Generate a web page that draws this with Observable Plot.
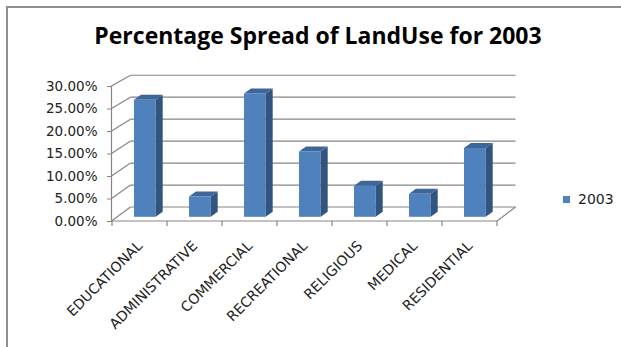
<!DOCTYPE html>
<html>
<head>
<meta charset="utf-8">
<script src="https://cdn.jsdelivr.net/npm/d3@7"></script>
<script src="https://cdn.jsdelivr.net/npm/@observablehq/plot@0.6"></script>
<style>
  html, body { margin: 0; padding: 0; background: #fff; overflow: hidden; }
  #wrap { position: relative; width: 621px; height: 347px; overflow: hidden; background: #fff; }
  #border { position: absolute; left: 6px; top: 6px; width: 640px; height: 360px; border-top: 2px solid #8e8e8e; border-left: 2px solid #8e8e8e; }
  #title { position: absolute; left: 0; top: 21px; width: 636px; text-align: center; font-family: "Open Sans", sans-serif; font-weight: bold; font-size: 23px; color: #000; line-height: 28px; white-space: nowrap; }
  #chart { position: absolute; left: 0; top: 0; }
  #legend { position: absolute; left: 563px; top: 191px; font-family: "DejaVu Sans", sans-serif; font-size: 14px; color: #222; display: flex; align-items: center; }
  #legend .sw { width: 7px; height: 7px; background: #4f81bd; margin-right: 8px; }
</style>
</head>
<body>
<div id="wrap">
  <div id="border"></div>
  <div id="chart"></div>
  <div id="title"></div>
  <div id="legend"></div>
</div>
<script>
const titleText = "Percentage Spread of LandUse for 2003";
const categories = ["EDUCATIONAL", "ADMINISTRATIVE", "COMMERCIAL", "RECREATIONAL", "RELIGIOUS", "MEDICAL", "RESIDENTIAL"];
const values2003 = [26.0, 4.5, 27.4, 14.5, 6.9, 5.1, 15.3];
const yTicks = [0, 5, 10, 15, 20, 25, 30];
const seriesName = "2003";

const data = categories.map((c, i) => ({cat: c, value: values2003[i]}));

const FRONT = "#4f81bd", SIDE = "#31557f", CAP = "#3d6699", GRID = "#868686";
const depthX = 18.5, depthY = -14, backScale = 0.976;
const barDx = 5.5, barDy = -4.2, barDepthX = 7, barDepthY = -5;
const insL = 16.5, insR = 16.8;

function ns(tag, attrs) {
  const el = document.createElementNS("http://www.w3.org/2000/svg", tag);
  for (const k in attrs) el.setAttribute(k, attrs[k]);
  return el;
}

// walls, floor and gridlines
function walls(index, scales) {
  const {x, y} = scales;
  const g = ns("g", {stroke: GRID, "stroke-width": 1.2, fill: "none"});
  const r = x.range();
  const x0 = r[0], x1 = r[1];
  const y0 = y(0);
  const yb = t => y0 + depthY + (y(t) - y0) * backScale;
  for (const t of yTicks) {
    g.appendChild(ns("line", {x1: x0 + depthX, x2: x1 + depthX, y1: yb(t), y2: yb(t)}));
    g.appendChild(ns("line", {x1: x0 - 0.5, x2: x0 + depthX, y1: y(t), y2: yb(t)}));
  }
  g.appendChild(ns("line", {x1: x0 - 0.5, x2: x0 - 0.5, y1: y(yTicks[yTicks.length - 1]), y2: y0}));
  g.appendChild(ns("line", {x1: x0 - 0.5, x2: x1, y1: y0, y2: y0}));
  g.appendChild(ns("line", {x1: x1, x2: x1 + depthX, y1: y0, y2: y0 + depthY}));
  const bounds = categories.map(c => x(c)).concat([x(categories[categories.length - 1]) + x.bandwidth()]);
  for (const b of bounds) g.appendChild(ns("line", {x1: b, x2: b, y1: y0, y2: y0 + 5}));
  return g;
}

// bar side faces and caps
function barSides(index, scales) {
  const {x, y} = scales;
  const g = ns("g", {});
  for (const d of data) {
    const xl = x(d.cat) + insL + barDx;
    const xr = x(d.cat) + x.bandwidth() - insR + barDx;
    const yt = y(d.value) + barDy;
    const ybt = y(0) + barDy;
    g.appendChild(ns("polygon", {
      fill: SIDE,
      points: [[xr, yt], [xr + barDepthX, yt + barDepthY], [xr + barDepthX, ybt + barDepthY], [xr, ybt]].map(p => p.join(",")).join(" ")
    }));
    g.appendChild(ns("polygon", {
      fill: CAP,
      points: [[xl, yt], [xl + barDepthX, yt + barDepthY], [xr + barDepthX, yt + barDepthY], [xr, yt]].map(p => p.join(",")).join(" ")
    }));
  }
  return g;
}

const chart = Plot.plot({
  width: 621,
  height: 347,
  marginLeft: 112,
  marginRight: 124,
  marginTop: 86,
  marginBottom: 126,
  style: {fontFamily: "DejaVu Sans, sans-serif", color: "#222", background: "transparent"},
  x: {domain: categories, padding: 0, label: null},
  y: {domain: [0, 30], label: null},
  marks: [
    walls,
    Plot.barY(data, {x: "cat", y: "value", fill: FRONT, insetLeft: insL, insetRight: insR, dx: barDx, dy: barDy}),
    barSides,
    Plot.axisY({ticks: yTicks, tickFormat: d => d.toFixed(2) + "%", tickSize: 5, tickPadding: 10, fontSize: 13.5, stroke: GRID, label: null}),
    Plot.axisX({tickSize: 0, tickPadding: 22, tickRotate: -45, fontSize: 14, label: null})
  ]
});
document.getElementById("chart").appendChild(chart);
document.getElementById("title").textContent = titleText;
document.getElementById("legend").innerHTML = '<div class="sw"></div><span></span>';
document.querySelector("#legend span").textContent = seriesName;
</script>
</body>
</html>
